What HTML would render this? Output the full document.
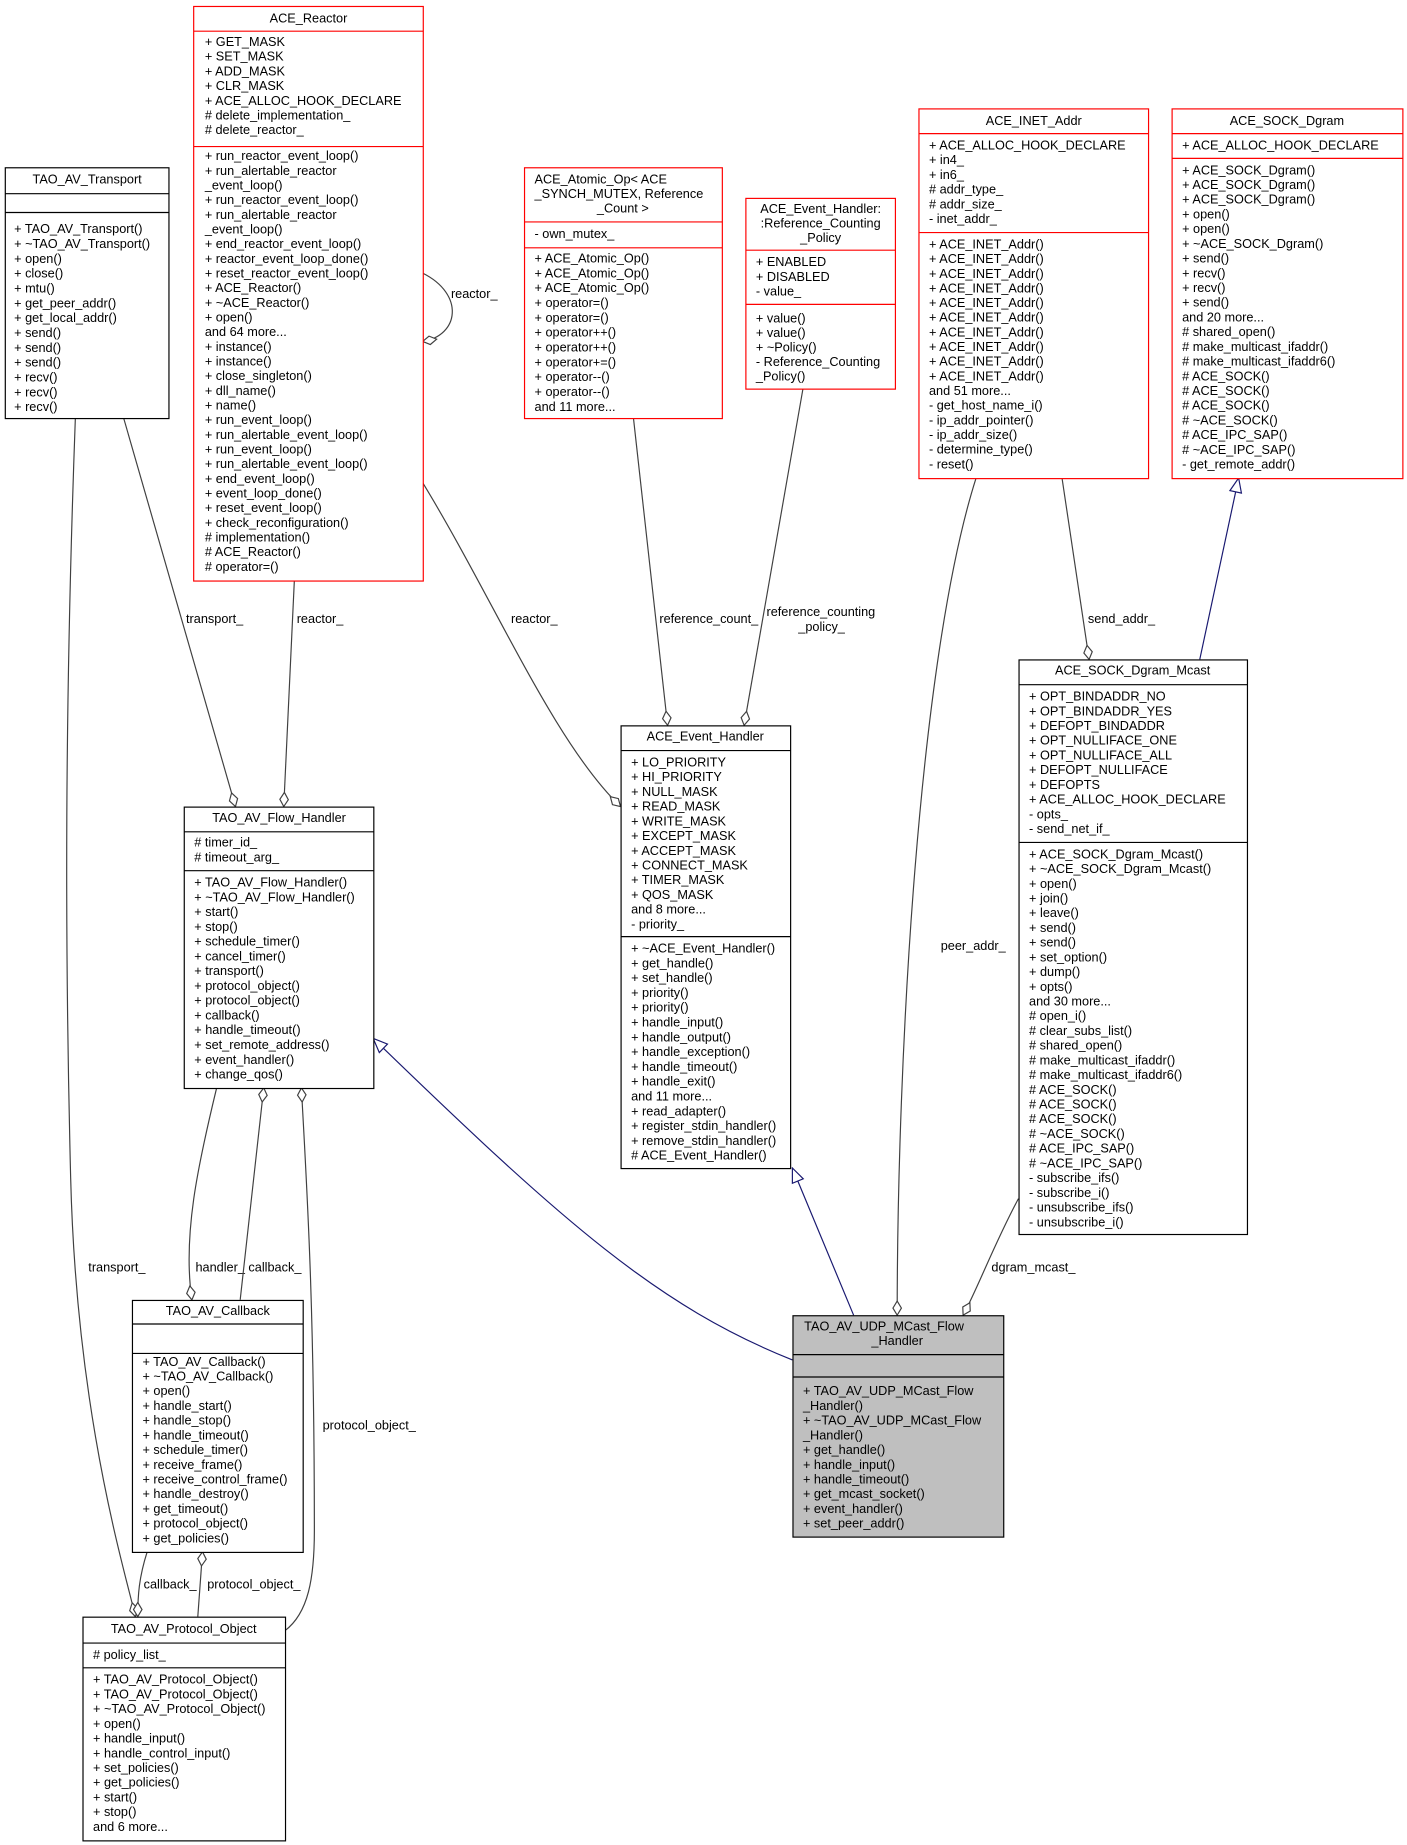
<!DOCTYPE html>
<html><head><meta charset="utf-8"><style>
html,body{margin:0;padding:0;background:#fff;width:1407px;height:1845px;overflow:hidden}
svg{display:block}
text{font-family:"Liberation Sans",Arial,sans-serif;font-size:10.8px;fill:#000}
.t{text-anchor:middle}
.e{fill:none;stroke:#404040;stroke-width:1}
.i{fill:none;stroke:#191970;stroke-width:1}
</style></head><body>
<svg width="1407" height="1845" viewBox="0 0 1195 1567" xmlns="http://www.w3.org/2000/svg">
<defs>
<marker id="d" viewBox="-1 -5 14 10" refX="12" refY="0" markerWidth="14" markerHeight="10" markerUnits="userSpaceOnUse" orient="auto"><path d="M0,0 L6,-3.6 L12,0 L6,3.6 z" fill="#fff" stroke="#404040"/></marker>
<marker id="tr" viewBox="-1 -6 14 12" refX="12" refY="0" markerWidth="14" markerHeight="12" markerUnits="userSpaceOnUse" orient="auto"><path d="M0,-5 L12,0 L0,5 z" fill="#fff" stroke="#191970"/></marker>
</defs>

<!-- edges -->
<path class="e" d="M105,355 L200,685" marker-end="url(#d)"/>
<text x="158" y="529">transport_</text>
<path class="e" d="M250,493 L241,685" marker-end="url(#d)"/>
<text x="252" y="529">reactor_</text>
<path class="e" d="M359,232 C395,250 390,285 359,290" marker-end="url(#d)"/>
<text x="383" y="253">reactor_</text>
<path class="e" d="M359,410 C420,510 470,630 527,685" marker-end="url(#d)"/>
<text x="434" y="529">reactor_</text>
<path class="e" d="M538,355 L567,616" marker-end="url(#d)"/>
<text x="560" y="529">reference_count_</text>
<path class="e" d="M682,330 L632,616" marker-end="url(#d)"/>
<text x="651" y="523">reference_counting</text>
<text x="678" y="536">_policy_</text>
<path class="e" d="M902,406 L925,560" marker-end="url(#d)"/>
<text x="924" y="529">send_addr_</text>
<path class="i" d="M1019,560 L1052,406" marker-end="url(#tr)"/>
<path class="e" d="M829,406 C780,560 762,900 762,1117" marker-end="url(#d)"/>
<text x="799" y="807">peer_addr_</text>
<path class="e" d="M865,1018 C845,1055 830,1095 818,1117" marker-end="url(#d)"/>
<text x="842" y="1080">dgram_mcast_</text>
<path class="i" d="M725,1117 L673,992" marker-end="url(#tr)"/>
<path class="i" d="M673,1155 C560,1110 480,1040 317,882" marker-end="url(#tr)"/>
<path class="e" d="M184,924 C168,990 155,1050 163,1104" marker-end="url(#d)"/>
<text x="166" y="1080">handler_</text>
<path class="e" d="M204,1104 L224,924" marker-end="url(#d)"/>
<text x="211" y="1080">callback_</text>
<path class="e" d="M242,1385 C262,1370 267,1340 267,1300 C267,1100 260,1000 256,924" marker-end="url(#d)"/>
<text x="274" y="1214">protocol_object_</text>
<path class="e" d="M64,355 C55,600 55,800 60,1000 C65,1200 105,1330 115,1373" marker-end="url(#d)"/>
<text x="75" y="1080">transport_</text>
<path class="e" d="M125,1318 C118,1340 117,1355 117,1373" marker-end="url(#d)"/>
<text x="122" y="1349">callback_</text>
<path class="e" d="M168,1373 L172,1318" marker-end="url(#d)"/>
<text x="176" y="1349">protocol_object_</text>

<!-- TAO_AV_Transport -->
<g>
<rect x="4.5" y="142.5" width="139" height="213" fill="#fff" stroke="#000"/>
<line x1="4.5" y1="164.5" x2="143.5" y2="164.5" stroke="#000"/>
<line x1="4.5" y1="180.5" x2="143.5" y2="180.5" stroke="#000"/>
<text x="74" y="156" class="t">TAO_AV_Transport</text>
<text x="12" y="198"><tspan x="12">+ TAO_AV_Transport()</tspan><tspan x="12" dy="12.6">+ ~TAO_AV_Transport()</tspan><tspan x="12" dy="12.6">+ open()</tspan><tspan x="12" dy="12.6">+ close()</tspan><tspan x="12" dy="12.6">+ mtu()</tspan><tspan x="12" dy="12.6">+ get_peer_addr()</tspan><tspan x="12" dy="12.6">+ get_local_addr()</tspan><tspan x="12" dy="12.6">+ send()</tspan><tspan x="12" dy="12.6">+ send()</tspan><tspan x="12" dy="12.6">+ send()</tspan><tspan x="12" dy="12.6">+ recv()</tspan><tspan x="12" dy="12.6">+ recv()</tspan><tspan x="12" dy="12.6">+ recv()</tspan></text>
</g>

<!-- ACE_Reactor -->
<g>
<rect x="164.5" y="5.5" width="195" height="488" fill="#fff" stroke="#f00"/>
<line x1="164.5" y1="26.5" x2="359.5" y2="26.5" stroke="#f00"/>
<line x1="164.5" y1="124.5" x2="359.5" y2="124.5" stroke="#f00"/>
<text x="262" y="19" class="t">ACE_Reactor</text>
<text x="174" y="39"><tspan x="174">+ GET_MASK</tspan><tspan x="174" dy="12.5">+ SET_MASK</tspan><tspan x="174" dy="12.5">+ ADD_MASK</tspan><tspan x="174" dy="12.5">+ CLR_MASK</tspan><tspan x="174" dy="12.5">+ ACE_ALLOC_HOOK_DECLARE</tspan><tspan x="174" dy="12.5"># delete_implementation_</tspan><tspan x="174" dy="12.5"># delete_reactor_</tspan></text>
<text x="174" y="136"><tspan x="174">+ run_reactor_event_loop()</tspan><tspan x="174" dy="12.46">+ run_alertable_reactor</tspan><tspan x="174" dy="12.46">_event_loop()</tspan><tspan x="174" dy="12.46">+ run_reactor_event_loop()</tspan><tspan x="174" dy="12.46">+ run_alertable_reactor</tspan><tspan x="174" dy="12.46">_event_loop()</tspan><tspan x="174" dy="12.46">+ end_reactor_event_loop()</tspan><tspan x="174" dy="12.46">+ reactor_event_loop_done()</tspan><tspan x="174" dy="12.46">+ reset_reactor_event_loop()</tspan><tspan x="174" dy="12.46">+ ACE_Reactor()</tspan><tspan x="174" dy="12.46">+ ~ACE_Reactor()</tspan><tspan x="174" dy="12.46">+ open()</tspan><tspan x="174" dy="12.46">and 64 more...</tspan><tspan x="174" dy="12.46">+ instance()</tspan><tspan x="174" dy="12.46">+ instance()</tspan><tspan x="174" dy="12.46">+ close_singleton()</tspan><tspan x="174" dy="12.46">+ dll_name()</tspan><tspan x="174" dy="12.46">+ name()</tspan><tspan x="174" dy="12.46">+ run_event_loop()</tspan><tspan x="174" dy="12.46">+ run_alertable_event_loop()</tspan><tspan x="174" dy="12.46">+ run_event_loop()</tspan><tspan x="174" dy="12.46">+ run_alertable_event_loop()</tspan><tspan x="174" dy="12.46">+ end_event_loop()</tspan><tspan x="174" dy="12.46">+ event_loop_done()</tspan><tspan x="174" dy="12.46">+ reset_event_loop()</tspan><tspan x="174" dy="12.46">+ check_reconfiguration()</tspan><tspan x="174" dy="12.46"># implementation()</tspan><tspan x="174" dy="12.46"># ACE_Reactor()</tspan><tspan x="174" dy="12.46"># operator=()</tspan></text>
</g>

<!-- ACE_Atomic_Op -->
<g>
<rect x="445.5" y="142.5" width="168" height="213" fill="#fff" stroke="#f00"/>
<line x1="445.5" y1="188.5" x2="613.5" y2="188.5" stroke="#f00"/>
<line x1="445.5" y1="210.5" x2="613.5" y2="210.5" stroke="#f00"/>
<text x="454" y="156"><tspan x="454">ACE_Atomic_Op&lt; ACE</tspan><tspan x="454" dy="12.3">_SYNCH_MUTEX, Reference</tspan><tspan x="529" dy="12.3" class="t">_Count &gt;</tspan></text>
<text x="454" y="202">- own_mutex_</text>
<text x="454" y="223"><tspan x="454">+ ACE_Atomic_Op()</tspan><tspan x="454" dy="12.6">+ ACE_Atomic_Op()</tspan><tspan x="454" dy="12.6">+ ACE_Atomic_Op()</tspan><tspan x="454" dy="12.6">+ operator=()</tspan><tspan x="454" dy="12.6">+ operator=()</tspan><tspan x="454" dy="12.6">+ operator++()</tspan><tspan x="454" dy="12.6">+ operator++()</tspan><tspan x="454" dy="12.6">+ operator+=()</tspan><tspan x="454" dy="12.6">+ operator--()</tspan><tspan x="454" dy="12.6">+ operator--()</tspan><tspan x="454" dy="12.6">and 11 more...</tspan></text>
</g>

<!-- Reference_Counting_Policy -->
<g>
<rect x="633.5" y="168.5" width="127" height="162" fill="#fff" stroke="#f00"/>
<line x1="633.5" y1="212.5" x2="760.5" y2="212.5" stroke="#f00"/>
<line x1="633.5" y1="258.5" x2="760.5" y2="258.5" stroke="#f00"/>
<text y="181" class="t"><tspan x="697">ACE_Event_Handler:</tspan><tspan x="697" dy="12.3">:Reference_Counting</tspan><tspan x="697" dy="12.3">_Policy</tspan></text>
<text x="642" y="226"><tspan x="642">+ ENABLED</tspan><tspan x="642" dy="12.5">+ DISABLED</tspan><tspan x="642" dy="12.5">- value_</tspan></text>
<text x="642" y="274"><tspan x="642">+ value()</tspan><tspan x="642" dy="12.3">+ value()</tspan><tspan x="642" dy="12.3">+ ~Policy()</tspan><tspan x="642" dy="12.3">- Reference_Counting</tspan><tspan x="642" dy="12.3">_Policy()</tspan></text>
</g>

<!-- ACE_INET_Addr -->
<g>
<rect x="780.5" y="92.5" width="195" height="314" fill="#fff" stroke="#f00"/>
<line x1="780.5" y1="113.5" x2="975.5" y2="113.5" stroke="#f00"/>
<line x1="780.5" y1="197.5" x2="975.5" y2="197.5" stroke="#f00"/>
<text x="878" y="106" class="t">ACE_INET_Addr</text>
<text x="789" y="127"><tspan x="789">+ ACE_ALLOC_HOOK_DECLARE</tspan><tspan x="789" dy="12.5">+ in4_</tspan><tspan x="789" dy="12.5">+ in6_</tspan><tspan x="789" dy="12.5"># addr_type_</tspan><tspan x="789" dy="12.5"># addr_size_</tspan><tspan x="789" dy="12.5">- inet_addr_</tspan></text>
<text x="789" y="211"><tspan x="789">+ ACE_INET_Addr()</tspan><tspan x="789" dy="12.45">+ ACE_INET_Addr()</tspan><tspan x="789" dy="12.45">+ ACE_INET_Addr()</tspan><tspan x="789" dy="12.45">+ ACE_INET_Addr()</tspan><tspan x="789" dy="12.45">+ ACE_INET_Addr()</tspan><tspan x="789" dy="12.45">+ ACE_INET_Addr()</tspan><tspan x="789" dy="12.45">+ ACE_INET_Addr()</tspan><tspan x="789" dy="12.45">+ ACE_INET_Addr()</tspan><tspan x="789" dy="12.45">+ ACE_INET_Addr()</tspan><tspan x="789" dy="12.45">+ ACE_INET_Addr()</tspan><tspan x="789" dy="12.45">and 51 more...</tspan><tspan x="789" dy="12.45">- get_host_name_i()</tspan><tspan x="789" dy="12.45">- ip_addr_pointer()</tspan><tspan x="789" dy="12.45">- ip_addr_size()</tspan><tspan x="789" dy="12.45">- determine_type()</tspan><tspan x="789" dy="12.45">- reset()</tspan></text>
</g>

<!-- ACE_SOCK_Dgram -->
<g>
<rect x="995.5" y="92.5" width="196" height="314" fill="#fff" stroke="#f00"/>
<line x1="995.5" y1="113.5" x2="1191.5" y2="113.5" stroke="#f00"/>
<line x1="995.5" y1="134.5" x2="1191.5" y2="134.5" stroke="#f00"/>
<text x="1093" y="106" class="t">ACE_SOCK_Dgram</text>
<text x="1004" y="127">+ ACE_ALLOC_HOOK_DECLARE</text>
<text x="1004" y="148"><tspan x="1004">+ ACE_SOCK_Dgram()</tspan><tspan x="1004" dy="12.5">+ ACE_SOCK_Dgram()</tspan><tspan x="1004" dy="12.5">+ ACE_SOCK_Dgram()</tspan><tspan x="1004" dy="12.5">+ open()</tspan><tspan x="1004" dy="12.5">+ open()</tspan><tspan x="1004" dy="12.5">+ ~ACE_SOCK_Dgram()</tspan><tspan x="1004" dy="12.5">+ send()</tspan><tspan x="1004" dy="12.5">+ recv()</tspan><tspan x="1004" dy="12.5">+ recv()</tspan><tspan x="1004" dy="12.5">+ send()</tspan><tspan x="1004" dy="12.5">and 20 more...</tspan><tspan x="1004" dy="12.5"># shared_open()</tspan><tspan x="1004" dy="12.5"># make_multicast_ifaddr()</tspan><tspan x="1004" dy="12.5"># make_multicast_ifaddr6()</tspan><tspan x="1004" dy="12.5"># ACE_SOCK()</tspan><tspan x="1004" dy="12.5"># ACE_SOCK()</tspan><tspan x="1004" dy="12.5"># ACE_SOCK()</tspan><tspan x="1004" dy="12.5"># ~ACE_SOCK()</tspan><tspan x="1004" dy="12.5"># ACE_IPC_SAP()</tspan><tspan x="1004" dy="12.5"># ~ACE_IPC_SAP()</tspan><tspan x="1004" dy="12.5">- get_remote_addr()</tspan></text>
</g>

<!-- ACE_SOCK_Dgram_Mcast -->
<g>
<rect x="865.5" y="560.5" width="194" height="488" fill="#fff" stroke="#000"/>
<line x1="865.5" y1="581.5" x2="1059.5" y2="581.5" stroke="#000"/>
<line x1="865.5" y1="715.5" x2="1059.5" y2="715.5" stroke="#000"/>
<text x="962" y="573" class="t">ACE_SOCK_Dgram_Mcast</text>
<text x="874" y="595"><tspan x="874">+ OPT_BINDADDR_NO</tspan><tspan x="874" dy="12.5">+ OPT_BINDADDR_YES</tspan><tspan x="874" dy="12.5">+ DEFOPT_BINDADDR</tspan><tspan x="874" dy="12.5">+ OPT_NULLIFACE_ONE</tspan><tspan x="874" dy="12.5">+ OPT_NULLIFACE_ALL</tspan><tspan x="874" dy="12.5">+ DEFOPT_NULLIFACE</tspan><tspan x="874" dy="12.5">+ DEFOPTS</tspan><tspan x="874" dy="12.5">+ ACE_ALLOC_HOOK_DECLARE</tspan><tspan x="874" dy="12.5">- opts_</tspan><tspan x="874" dy="12.5">- send_net_if_</tspan></text>
<text x="874" y="729"><tspan x="874">+ ACE_SOCK_Dgram_Mcast()</tspan><tspan x="874" dy="12.5">+ ~ACE_SOCK_Dgram_Mcast()</tspan><tspan x="874" dy="12.5">+ open()</tspan><tspan x="874" dy="12.5">+ join()</tspan><tspan x="874" dy="12.5">+ leave()</tspan><tspan x="874" dy="12.5">+ send()</tspan><tspan x="874" dy="12.5">+ send()</tspan><tspan x="874" dy="12.5">+ set_option()</tspan><tspan x="874" dy="12.5">+ dump()</tspan><tspan x="874" dy="12.5">+ opts()</tspan><tspan x="874" dy="12.5">and 30 more...</tspan><tspan x="874" dy="12.5"># open_i()</tspan><tspan x="874" dy="12.5"># clear_subs_list()</tspan><tspan x="874" dy="12.5"># shared_open()</tspan><tspan x="874" dy="12.5"># make_multicast_ifaddr()</tspan><tspan x="874" dy="12.5"># make_multicast_ifaddr6()</tspan><tspan x="874" dy="12.5"># ACE_SOCK()</tspan><tspan x="874" dy="12.5"># ACE_SOCK()</tspan><tspan x="874" dy="12.5"># ACE_SOCK()</tspan><tspan x="874" dy="12.5"># ~ACE_SOCK()</tspan><tspan x="874" dy="12.5"># ACE_IPC_SAP()</tspan><tspan x="874" dy="12.5"># ~ACE_IPC_SAP()</tspan><tspan x="874" dy="12.5">- subscribe_ifs()</tspan><tspan x="874" dy="12.5">- subscribe_i()</tspan><tspan x="874" dy="12.5">- unsubscribe_ifs()</tspan><tspan x="874" dy="12.5">- unsubscribe_i()</tspan></text>
</g>

<!-- ACE_Event_Handler -->
<g>
<rect x="527.5" y="616.5" width="144" height="376" fill="#fff" stroke="#000"/>
<line x1="527.5" y1="637.5" x2="671.5" y2="637.5" stroke="#000"/>
<line x1="527.5" y1="795.5" x2="671.5" y2="795.5" stroke="#000"/>
<text x="599" y="629" class="t">ACE_Event_Handler</text>
<text x="536" y="651"><tspan x="536">+ LO_PRIORITY</tspan><tspan x="536" dy="12.5">+ HI_PRIORITY</tspan><tspan x="536" dy="12.5">+ NULL_MASK</tspan><tspan x="536" dy="12.5">+ READ_MASK</tspan><tspan x="536" dy="12.5">+ WRITE_MASK</tspan><tspan x="536" dy="12.5">+ EXCEPT_MASK</tspan><tspan x="536" dy="12.5">+ ACCEPT_MASK</tspan><tspan x="536" dy="12.5">+ CONNECT_MASK</tspan><tspan x="536" dy="12.5">+ TIMER_MASK</tspan><tspan x="536" dy="12.5">+ QOS_MASK</tspan><tspan x="536" dy="12.5">and 8 more...</tspan><tspan x="536" dy="12.5">- priority_</tspan></text>
<text x="536" y="809"><tspan x="536">+ ~ACE_Event_Handler()</tspan><tspan x="536" dy="12.57">+ get_handle()</tspan><tspan x="536" dy="12.57">+ set_handle()</tspan><tspan x="536" dy="12.57">+ priority()</tspan><tspan x="536" dy="12.57">+ priority()</tspan><tspan x="536" dy="12.57">+ handle_input()</tspan><tspan x="536" dy="12.57">+ handle_output()</tspan><tspan x="536" dy="12.57">+ handle_exception()</tspan><tspan x="536" dy="12.57">+ handle_timeout()</tspan><tspan x="536" dy="12.57">+ handle_exit()</tspan><tspan x="536" dy="12.57">and 11 more...</tspan><tspan x="536" dy="12.57">+ read_adapter()</tspan><tspan x="536" dy="12.57">+ register_stdin_handler()</tspan><tspan x="536" dy="12.57">+ remove_stdin_handler()</tspan><tspan x="536" dy="12.57"># ACE_Event_Handler()</tspan></text>
</g>

<!-- TAO_AV_Flow_Handler -->
<g>
<rect x="156.5" y="685.5" width="161" height="239" fill="#fff" stroke="#000"/>
<line x1="156.5" y1="706.5" x2="317.5" y2="706.5" stroke="#000"/>
<line x1="156.5" y1="739.5" x2="317.5" y2="739.5" stroke="#000"/>
<text x="237" y="698" class="t">TAO_AV_Flow_Handler</text>
<text x="165" y="719"><tspan x="165"># timer_id_</tspan><tspan x="165" dy="12.5"># timeout_arg_</tspan></text>
<text x="165" y="753"><tspan x="165">+ TAO_AV_Flow_Handler()</tspan><tspan x="165" dy="12.54">+ ~TAO_AV_Flow_Handler()</tspan><tspan x="165" dy="12.54">+ start()</tspan><tspan x="165" dy="12.54">+ stop()</tspan><tspan x="165" dy="12.54">+ schedule_timer()</tspan><tspan x="165" dy="12.54">+ cancel_timer()</tspan><tspan x="165" dy="12.54">+ transport()</tspan><tspan x="165" dy="12.54">+ protocol_object()</tspan><tspan x="165" dy="12.54">+ protocol_object()</tspan><tspan x="165" dy="12.54">+ callback()</tspan><tspan x="165" dy="12.54">+ handle_timeout()</tspan><tspan x="165" dy="12.54">+ set_remote_address()</tspan><tspan x="165" dy="12.54">+ event_handler()</tspan><tspan x="165" dy="12.54">+ change_qos()</tspan></text>
</g>

<!-- TAO_AV_Callback -->
<g>
<rect x="112.5" y="1104.5" width="145" height="214" fill="#fff" stroke="#000"/>
<line x1="112.5" y1="1124.5" x2="257.5" y2="1124.5" stroke="#000"/>
<line x1="112.5" y1="1149.5" x2="257.5" y2="1149.5" stroke="#000"/>
<text x="185" y="1117" class="t">TAO_AV_Callback</text>
<text x="121" y="1160"><tspan x="121">+ TAO_AV_Callback()</tspan><tspan x="121" dy="12.5">+ ~TAO_AV_Callback()</tspan><tspan x="121" dy="12.5">+ open()</tspan><tspan x="121" dy="12.5">+ handle_start()</tspan><tspan x="121" dy="12.5">+ handle_stop()</tspan><tspan x="121" dy="12.5">+ handle_timeout()</tspan><tspan x="121" dy="12.5">+ schedule_timer()</tspan><tspan x="121" dy="12.5">+ receive_frame()</tspan><tspan x="121" dy="12.5">+ receive_control_frame()</tspan><tspan x="121" dy="12.5">+ handle_destroy()</tspan><tspan x="121" dy="12.5">+ get_timeout()</tspan><tspan x="121" dy="12.5">+ protocol_object()</tspan><tspan x="121" dy="12.5">+ get_policies()</tspan></text>
</g>

<!-- TAO_AV_Protocol_Object -->
<g>
<rect x="70.5" y="1373.5" width="172" height="190" fill="#fff" stroke="#000"/>
<line x1="70.5" y1="1395.5" x2="242.5" y2="1395.5" stroke="#000"/>
<line x1="70.5" y1="1416.5" x2="242.5" y2="1416.5" stroke="#000"/>
<text x="156" y="1387" class="t">TAO_AV_Protocol_Object</text>
<text x="79" y="1409"># policy_list_</text>
<text x="79" y="1430"><tspan x="79">+ TAO_AV_Protocol_Object()</tspan><tspan x="79" dy="12.5">+ TAO_AV_Protocol_Object()</tspan><tspan x="79" dy="12.5">+ ~TAO_AV_Protocol_Object()</tspan><tspan x="79" dy="12.5">+ open()</tspan><tspan x="79" dy="12.5">+ handle_input()</tspan><tspan x="79" dy="12.5">+ handle_control_input()</tspan><tspan x="79" dy="12.5">+ set_policies()</tspan><tspan x="79" dy="12.5">+ get_policies()</tspan><tspan x="79" dy="12.5">+ start()</tspan><tspan x="79" dy="12.5">+ stop()</tspan><tspan x="79" dy="12.5">and 6 more...</tspan></text>
</g>

<!-- TAO_AV_UDP_MCast_Flow_Handler -->
<g>
<rect x="673.5" y="1117.5" width="179" height="188" fill="#bfbfbf" stroke="#000"/>
<line x1="673.5" y1="1150.5" x2="852.5" y2="1150.5" stroke="#000"/>
<line x1="673.5" y1="1169.5" x2="852.5" y2="1169.5" stroke="#000"/>
<text x="683" y="1130"><tspan x="683">TAO_AV_UDP_MCast_Flow</tspan><tspan x="762" dy="12.3" class="t">_Handler</tspan></text>
<text x="682" y="1185"><tspan x="682">+ TAO_AV_UDP_MCast_Flow</tspan><tspan x="682" dy="12.5">_Handler()</tspan><tspan x="682" dy="12.5">+ ~TAO_AV_UDP_MCast_Flow</tspan><tspan x="682" dy="12.5">_Handler()</tspan><tspan x="682" dy="12.5">+ get_handle()</tspan><tspan x="682" dy="12.5">+ handle_input()</tspan><tspan x="682" dy="12.5">+ handle_timeout()</tspan><tspan x="682" dy="12.5">+ get_mcast_socket()</tspan><tspan x="682" dy="12.5">+ event_handler()</tspan><tspan x="682" dy="12.5">+ set_peer_addr()</tspan></text>
</g>
</svg>
</body></html>
